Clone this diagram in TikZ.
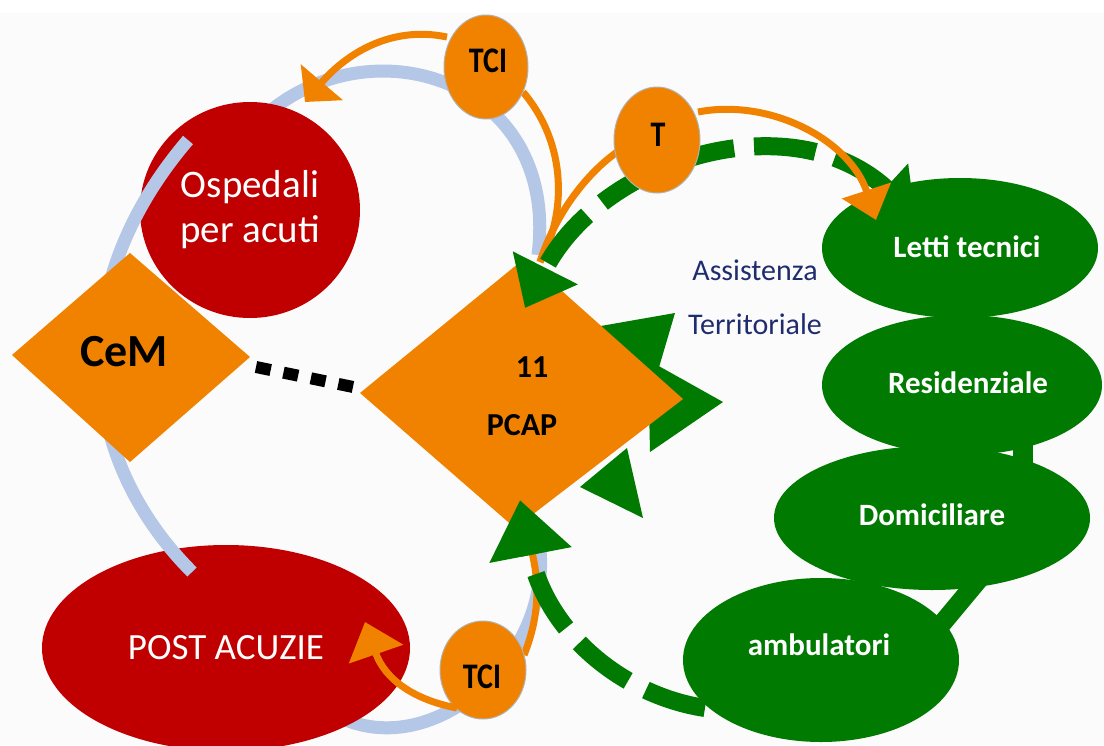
\documentclass[tikz,border=0pt]{standalone}
\usepackage{fontspec}
\setmainfont{Carlito}
\usetikzlibrary{shapes.geometric,arrows.meta}
\definecolor{cOr}{RGB}{240,130,0}
\definecolor{cRed}{RGB}{192,0,0}
\definecolor{cGreen}{RGB}{0,122,0}
\definecolor{cBlue}{RGB}{180,199,231}
\definecolor{cNavy}{RGB}{31,45,110}
\definecolor{cBg}{RGB}{251,251,251}
\begin{document}
\begin{tikzpicture}[x=1pt,y=-1pt,
  redshape/.style={ellipse,fill=cRed,draw=none,inner sep=0pt,text=white,align=center},
  gell/.style={ellipse,fill=cGreen,draw=none,inner sep=0pt},
  ocirc/.style={ellipse,fill=cOr,draw=gray!60,line width=1pt,inner sep=0pt},
  glabel/.style={text=white,font=\fontsize{31}{35}\selectfont\bfseries},
  olabel/.style={text=black,font=\fontsize{30}{34}\selectfont\bfseries},
  bluearc/.style={draw=cBlue,line width=13pt},
  oline/.style={draw=cOr,line width=7pt},
  gdash/.style={draw=cGreen,line width=18pt,dash pattern=on 62pt off 20pt},
  gband/.style={draw=cGreen,line width=20pt},
  ghead/.style={fill=cGreen,draw=none}]
\useasboundingbox (0,0) rectangle (1104,745);
\fill[white] (0,0) rectangle (1104,745);
\fill[cBg] (0,13) rectangle (1104,745);

% blue arcs behind the red shapes
\coordinate (bB1) at (262,118);
\coordinate (bB2) at (538,255);
\coordinate (bC1) at (335,715);
\coordinate (bC2) at (540,550);
\draw[bluearc] (bB1) .. controls (370,20) and (560,80) .. (bB2);
\draw[bluearc] (bC1) .. controls (430,765) and (550,660) .. (bC2);

% red shapes
\node[redshape,minimum width=220pt,minimum height=216pt,
      font=\fontsize{39}{45}\selectfont] (osp) at (250,210) {Ospedali\\per acuti};
\node[redshape,minimum width=368pt,minimum height=206pt,
      font=\fontsize{37}{42}\selectfont] (post) at (226,648) {POST ACUZIE};

% blue arc over the red shapes
\coordinate (bA1) at (188,140);
\coordinate (bA2) at (192,572);
\draw[bluearc] (bA1) .. controls (60,290) and (80,460) .. (bA2);

% green outward arrowheads (behind PCAP)
\fill[ghead] (675,313) -- (595,327) -- (652,391) -- cycle;
\fill[ghead] (648,360) -- (723,402) -- (650,452) -- cycle;
\fill[ghead] (627,448) -- (643,518) -- (580,487) -- cycle;

% diamonds
\fill[cOr] (12,355) -- (130,253) -- (250,357) -- (130,462) -- cycle;
\node[text=black,font=\fontsize{46}{52}\selectfont\bfseries] (cem) at (124,352) {CeM};
\fill[cOr] (360,393) -- (525,258) -- (683,399) -- (515,528) -- cycle;
\node[text=black,font=\fontsize{32}{36}\selectfont\bfseries] (pcapn) at (532,367) {11};
\node[text=black,font=\fontsize{32}{36}\selectfont\bfseries] (pcap) at (522,425) {PCAP};

% black dotted link
\coordinate (dl1) at (256,367);
\coordinate (dl2) at (358,388);
\draw[line width=12pt,dash pattern=on 15pt off 13pt] (dl1) -- (dl2);

% orange lines ending under green heads
\coordinate (pTop) at (540,262);
\coordinate (pBot) at (530,545);
\draw[oline] (523,92) .. controls (568,145) and (566,215) .. (pTop);
\draw[oline] (617,152) .. controls (585,175) and (555,215) .. (pTop);
\draw[oline] (524,655) .. controls (540,615) and (540,580) .. (pBot);

% green dashed arcs
\coordinate (gT1) at (915,215);
\coordinate (gT2) at (525,308);
\coordinate (gB1) at (705,708);
\coordinate (gB2) at (520,500);
\draw[gdash,{Triangle[length=40pt,width=64pt]}-{Triangle[length=45pt,width=70pt]}]
  (gT1) .. controls (790,100) and (600,160) .. (gT2);
\draw[gdash,-{Triangle[length=56pt,width=80pt]}]
  (gB1) .. controls (620,695) and (545,630) .. (gB2);

% green bands between ellipses
\draw[gband] (1023,430) -- (1023,475);
\draw[gband,line width=19pt] (985,572) -- (930,638);

% green ellipses
\node[gell,minimum width=276pt,minimum height=140pt] (letti) at (960,248) {};
\node[gell,minimum width=280pt,minimum height=140pt] (resid) at (962,385) {};
\node[gell,minimum width=316pt,minimum height=144pt] (domic) at (932,518) {};
\node[gell,minimum width=276pt,minimum height=164pt] (ambul) at (821,660) {};
\node[glabel] (lettiT) at (967,247) {Letti tecnici};
\node[glabel] (residT) at (968,383) {Residenziale};
\node[glabel] (domicT) at (932,515) {Domiciliare};
\node[glabel] (ambulT) at (819,645) {ambulatori};

% orange circles
\node[ocirc,minimum width=84pt,minimum height=104pt] (tci1) at (486,67) {};
\node[ocirc,minimum width=86pt,minimum height=106pt] (tp) at (657,140) {};
\node[ocirc,minimum width=86pt,minimum height=98pt] (tci2) at (483,670) {};
\node[olabel] (tci1T) at (488,61) {\scalebox{1}[1.2]{TCI}};
\node[olabel] (tpT) at (658,135) {\scalebox{1}[1.2]{T}};
\node[olabel] (tci2T) at (482,677) {\scalebox{1}[1.2]{TCI}};

% orange arrows with heads
\draw[oline,-{Triangle[length=26pt,width=54pt]}] (447,37) .. controls (390,25) and (345,55) .. (305,102);
\draw[oline,-{Triangle[length=31pt,width=50pt]}] (698,112) .. controls (770,98) and (850,140) .. (876,220);
\draw[oline,-{Triangle[length=34pt,width=56pt]}] (457,708) .. controls (415,700) and (385,680) .. (365,622);

% Assistenza Territoriale
\node[text=cNavy,font=\fontsize{30}{34}\selectfont] (ass) at (755,270) {Assistenza};
\node[text=cNavy,font=\fontsize{30}{34}\selectfont] (terr) at (755,324) {Territoriale};
\end{tikzpicture}
\end{document}
